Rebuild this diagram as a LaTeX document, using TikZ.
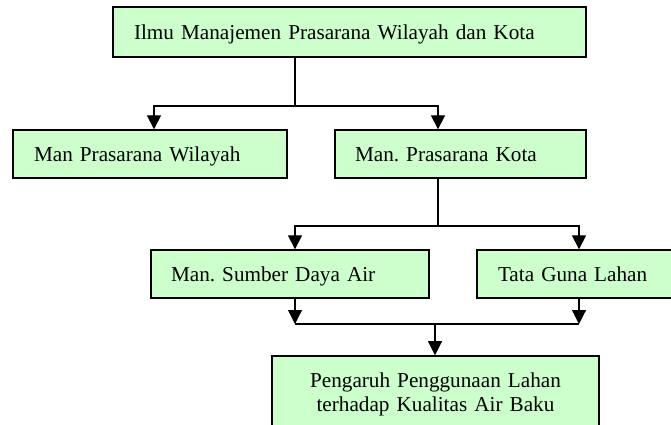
\documentclass[tikz,border=0pt]{standalone}
\usepackage{fontspec}
\setmainfont{Liberation Serif}
\frenchspacing
\usetikzlibrary{arrows.meta}
\definecolor{boxgreen}{HTML}{CCFFCC}
\tikzstyle{arrow} = [line width=1.1pt,-{Triangle[length=14pt,width=14pt]}]
\tikzstyle{line} = [line width=1.1pt]
\tikzstyle{onebox} = [rectangle, draw=black, line width=1.3pt, fill=boxgreen, align=left, text height=15pt, text depth=0pt, minimum height=48pt, inner ysep=0pt, font=\fontsize{21.2}{24}\selectfont]
\tikzstyle{ilmuclass} = [onebox, minimum height=50pt, text width=431pt, inner xsep=21pt]
\tikzstyle{wilayahclass} = [onebox, text width=232pt, inner xsep=21pt]
\tikzstyle{kotaclass} = [onebox, text width=211pt, inner xsep=20pt]
\tikzstyle{airclass} = [onebox, text width=238pt, inner xsep=20pt]
\tikzstyle{lahanclass} = [onebox, text width=200pt, inner xsep=21pt]
\tikzstyle{hasilclass} = [rectangle, draw=black, line width=1.3pt, fill=boxgreen, align=center, text width=300pt, inner xsep=13.5pt, inner ysep=16.5pt, font=\fontsize{21.2}{24}\selectfont]

\begin{document}
\begin{tikzpicture}[x=1pt, y=1pt, node distance=120pt]
		\useasboundingbox (0,0) rectangle (671,-425);
		\node (ilmu) [ilmuclass] at (349.5,-32) {Ilmu Manajemen Prasarana Wilayah dan Kota};
		\node (wil) [wilayahclass, below of=ilmu, xshift=-199.5pt, yshift=-2pt] {Man Prasarana Wilayah};
		\node (kota) [kotaclass, below of=ilmu, xshift=111pt, yshift=-2pt] {Man. Prasarana Kota};
		\node (sda) [airclass, below of=kota, xshift=-170.5pt] {Man. Sumber Daya Air};
		\node (tgl) [lahanclass, below of=kota, xshift=137.5pt] {Tata Guna Lahan};
		\node (pgr) [hasilclass, below of=sda, xshift=145.5pt] {Pengaruh Penggunaan Lahan \\ terhadap Kualitas Air Baku};
		% junctions
		\coordinate (j1) at (295,-106);
		\coordinate (j2) at (438,-226);
		\coordinate (j3) at (435,-324);
		\coordinate (j4) at (579,-324);
		\draw [line] (ilmu.south -| j1) -- (j1);
		\draw [arrow] (j1) -| ([xshift=4pt]wil.north);
		\draw [arrow] (j1) -| (kota.north -| j2);
		\draw [line] (kota.south -| j2) -- (j2);
		\draw [arrow] (j2) -| (sda.north -| j1);
		\draw [arrow] (j2) -| (tgl.north -| j4);
		\draw [arrow] (sda.south -| j1) -- (j1 |- j3);
		\draw [arrow] (tgl.south -| j4) -- (j4);
		\draw [line] (j1 |- j3) -- (j4);
		\draw [arrow] (j3) -- (pgr.north -| j3);
	\end{tikzpicture}
\end{document}
